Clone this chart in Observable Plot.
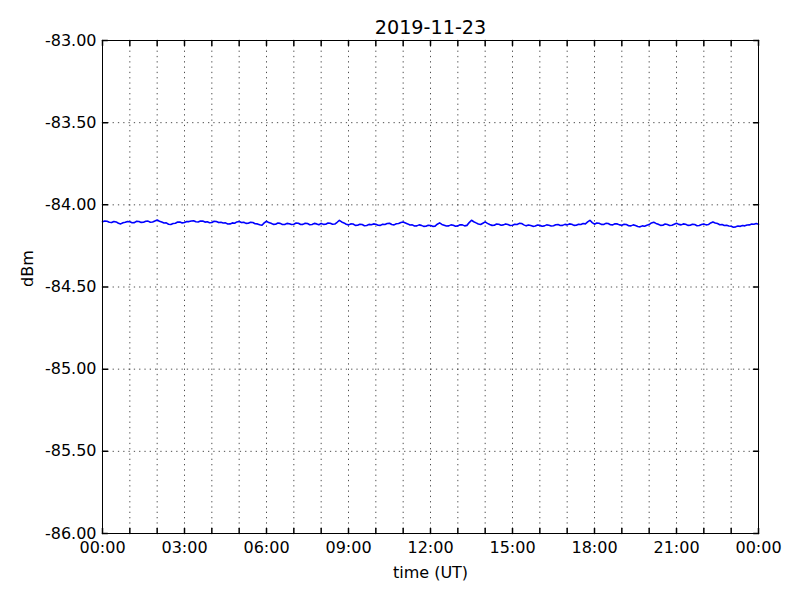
<!DOCTYPE html>
<html>
<head>
<meta charset="utf-8">
<script src="https://cdn.jsdelivr.net/npm/d3@7"></script>
<script src="https://cdn.jsdelivr.net/npm/@observablehq/plot@0.6"></script>
<style>
  html, body { margin: 0; padding: 0; background: white; }
  #chart { width: 800px; height: 600px; }
</style>
</head>
<body>
<div id="chart"></div>
<script>
const title = "2019-11-23";
const xLabel = "time (UT)";
const yLabel = "dBm";
const startTime = "2019-11-23T00:00:00Z";
const endTime = "2019-11-24T00:00:00Z";
const stepMinutes = 5;
// one value every 5 minutes, 00:00 .. 24:00 (12 per hour)
const dbm = [
  -84.103,-84.098,-84.100,-84.106,-84.108,-84.101,-84.104,-84.112,-84.116,-84.109,-84.106,-84.101,
  -84.103,-84.109,-84.108,-84.100,-84.101,-84.107,-84.106,-84.100,-84.099,-84.106,-84.104,-84.098,
  -84.092,-84.100,-84.105,-84.111,-84.110,-84.118,-84.120,-84.114,-84.112,-84.105,-84.104,-84.110,
  -84.108,-84.101,-84.102,-84.098,-84.097,-84.103,-84.104,-84.098,-84.099,-84.105,-84.103,-84.109,
  -84.107,-84.100,-84.101,-84.108,-84.106,-84.111,-84.110,-84.117,-84.116,-84.110,-84.112,-84.104,
  -84.101,-84.108,-84.106,-84.113,-84.112,-84.106,-84.108,-84.115,-84.116,-84.121,-84.124,-84.110,
  -84.100,-84.108,-84.112,-84.119,-84.118,-84.111,-84.113,-84.120,-84.120,-84.113,-84.115,-84.120,
  -84.118,-84.111,-84.112,-84.120,-84.119,-84.112,-84.114,-84.121,-84.120,-84.113,-84.116,-84.121,
  -84.113,-84.119,-84.118,-84.111,-84.112,-84.118,-84.117,-84.106,-84.094,-84.104,-84.110,-84.118,
  -84.122,-84.116,-84.117,-84.125,-84.124,-84.118,-84.120,-84.127,-84.126,-84.119,-84.121,-84.116,
  -84.118,-84.124,-84.125,-84.118,-84.120,-84.114,-84.112,-84.120,-84.122,-84.115,-84.114,-84.108,
  -84.104,-84.110,-84.116,-84.123,-84.122,-84.129,-84.128,-84.122,-84.125,-84.131,-84.130,-84.124,
  -84.126,-84.131,-84.130,-84.118,-84.110,-84.119,-84.124,-84.129,-84.128,-84.122,-84.124,-84.130,
  -84.128,-84.121,-84.122,-84.128,-84.125,-84.108,-84.094,-84.103,-84.110,-84.117,-84.120,-84.112,
  -84.104,-84.113,-84.120,-84.125,-84.124,-84.117,-84.118,-84.124,-84.122,-84.116,-84.120,-84.126,
  -84.124,-84.118,-84.120,-84.113,-84.114,-84.122,-84.128,-84.123,-84.126,-84.131,-84.129,-84.123,
  -84.125,-84.130,-84.128,-84.122,-84.124,-84.129,-84.127,-84.121,-84.120,-84.126,-84.125,-84.119,
  -84.122,-84.116,-84.118,-84.125,-84.124,-84.118,-84.120,-84.114,-84.116,-84.104,-84.094,-84.108,
  -84.118,-84.111,-84.112,-84.119,-84.120,-84.113,-84.114,-84.121,-84.122,-84.115,-84.116,-84.122,
  -84.124,-84.118,-84.120,-84.127,-84.128,-84.122,-84.126,-84.132,-84.134,-84.128,-84.130,-84.124,
  -84.120,-84.110,-84.106,-84.113,-84.118,-84.125,-84.124,-84.117,-84.120,-84.126,-84.124,-84.118,
  -84.112,-84.119,-84.122,-84.116,-84.118,-84.125,-84.124,-84.118,-84.120,-84.127,-84.126,-84.120,
  -84.116,-84.122,-84.120,-84.110,-84.104,-84.110,-84.114,-84.121,-84.120,-84.126,-84.124,-84.129,
  -84.130,-84.136,-84.134,-84.129,-84.131,-84.126,-84.128,-84.123,-84.122,-84.117,-84.118,-84.114,
  -84.118
];
const yTicks = [-86.0, -85.5, -85.0, -84.5, -84.0, -83.5, -83.0];
const xLabelHours = [0, 3, 6, 9, 12, 15, 18, 21, 24];
const xGridHours = d3.range(0, 25);

const t0 = new Date(startTime);
const t1 = new Date(endTime);
const hourDate = h => new Date(t0.getTime() + h * 3600e3);
const data = dbm.map((v, i) => ({time: new Date(t0.getTime() + i * stepMinutes * 60e3), dbm: v}));
const xLabelTicks = xLabelHours.map(hourDate);
const xGridTicks = xGridHours.map(hourDate);
const fmtTime = d => (d.getTime() === t1.getTime()) ? "00:00" : d3.utcFormat("%H:%M")(d);

const tickShape = {draw(ctx, l) { ctx.moveTo(0, 0); ctx.lineTo(0, -l); }};
const gridStyle = {stroke: "black", strokeOpacity: 1, strokeWidth: 0.7, strokeDasharray: "1.3,4"};

const chart = Plot.plot({
  width: 800,
  height: 600,
  marginTop: 40,
  marginRight: 42,
  marginBottom: 67,
  marginLeft: 102,
  style: {fontFamily: "DejaVu Sans", fontSize: "16px", background: "white", color: "black"},
  x: {type: "utc", domain: [t0, t1]},
  y: {domain: [-86, -83]},
  marks: [
    Plot.gridX(xGridTicks, gridStyle),
    Plot.gridY(yTicks, gridStyle),
    Plot.line(data, {x: "time", y: "dbm", stroke: "#0000ff", strokeWidth: 1.6}),
    Plot.vector(yTicks, {x: () => t0, y: d => d, length: 5, rotate: 90, anchor: "start", shape: tickShape, stroke: "black"}),
    Plot.vector(yTicks, {x: () => t1, y: d => d, length: 5, rotate: -90, anchor: "start", shape: tickShape, stroke: "black"}),
    Plot.vector(xGridTicks, {x: d => d, y: () => -86, length: 5, rotate: 0, anchor: "start", shape: tickShape, stroke: "black"}),
    Plot.vector(xGridTicks, {x: d => d, y: () => -83, length: 5, rotate: 180, anchor: "start", shape: tickShape, stroke: "black"}),
    Plot.frame({stroke: "black", strokeWidth: 1}),
    Plot.axisY(yTicks, {anchor: "left", tickSize: 0, tickPadding: 6, tickFormat: d => d.toFixed(2), label: null, fontSize: 16}),
    Plot.axisX(xLabelTicks, {anchor: "bottom", tickSize: 0, tickPadding: 8, tickFormat: fmtTime, label: null, fontSize: 16}),
    Plot.text([title], {frameAnchor: "top", dy: -13, lineAnchor: "middle", fontSize: 19.2}),
    Plot.text([xLabel], {frameAnchor: "bottom", dy: 39, lineAnchor: "middle", fontSize: 16}),
    Plot.text([yLabel], {frameAnchor: "left", dx: -75, rotate: -90, lineAnchor: "middle", fontSize: 16})
  ]
});
document.getElementById("chart").appendChild(chart);
</script>
</body>
</html>
